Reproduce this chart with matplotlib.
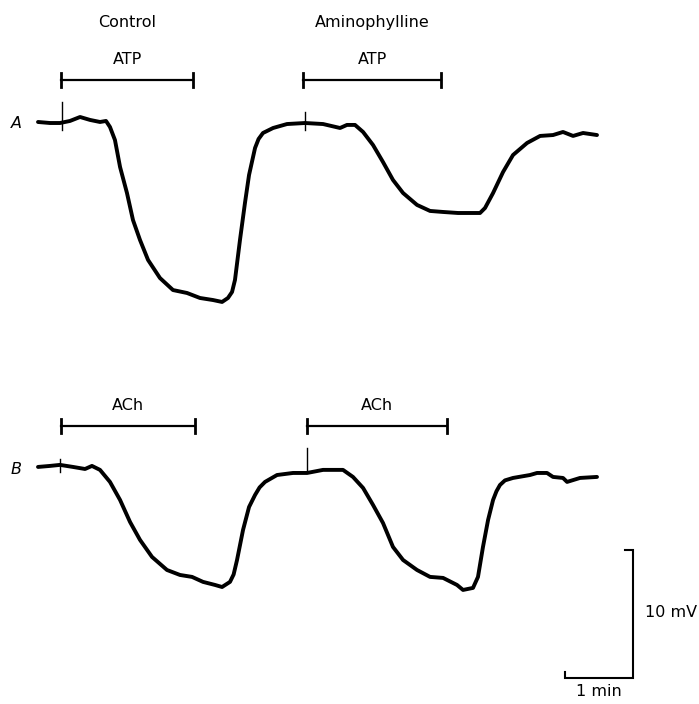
import matplotlib.pyplot as plt
import numpy as np

# time in s from start of record, membrane potential change in mV
t_a = [0, 10.6, 19.4, 28.2, 37.1, 45.9, 54.7, 60.0, 63.5, 67.9, 72.4, 78.5,
       83.8, 90.0, 97.1, 107.6, 119.1, 131.5, 142.9, 154.4, 162.4, 167.6, 171.2,
       173.8, 178.2, 182.6, 186.2, 191.5, 194.6, 198.5, 207.4, 219.7, 235.6, 251.5,
       266.5, 272.6, 279.7, 286.8, 295.6, 304.4, 313.2, 322.1, 334.4, 345.9,
       357.4, 370.6, 378.5, 390.0, 394.4, 401.5, 410.3, 419.1, 431.5, 443.0,
       454.4, 463.2, 472.1, 480.9, 493.2]
v_a = [0, -0.08, -0.08, 0.08, 0.39, 0.16, 0, 0.08, -0.39, -1.41, -3.52, -5.55,
       -7.66, -9.22, -10.78, -12.19, -13.13, -13.36, -13.75, -13.91, -14.06, -13.75, -13.28,
       -12.34, -9.22, -6.33, -4.14, -2.03, -1.33, -0.86, -0.47, -0.16, -0.08, -0.16,
       -0.47, -0.23, -0.23, -0.78, -1.80, -3.13, -4.53, -5.55, -6.48, -6.95,
       -7.03, -7.11, -7.11, -7.11, -6.72, -5.55, -3.91, -2.58, -1.64, -1.09,
       -1.02, -0.78, -1.09, -0.86, -1.02]

t_b = [0, 10.6, 19.4, 30.9, 41.5, 47.6, 54.7, 63.5, 72.4, 81.2, 90.0, 100.6,
       113.8, 125.3, 135.9, 145.6, 156.2, 162.4, 169.4, 172.6, 175.6, 180.9, 186.2,
       191.5, 195.5, 200.3, 210.9, 225.0, 237.4, 251.5, 269.1, 277.9, 286.8, 295.6,
       304.4, 313.2, 322.1, 334.4, 345.9, 357.4, 369.7, 375.0, 383.8, 388.2,
       392.6, 397.1, 401.5, 404.5, 407.6, 412.0, 419.1, 434.1, 440.3, 449.1, 454.4, 463.2,
       466.8, 478.2, 493.2]
v_b = [0, 0.08, 0.16, 0, -0.16, 0.08, -0.23, -1.17, -2.58, -4.30, -5.70, -7.03,
       -8.05, -8.44, -8.59, -8.98, -9.22, -9.38, -8.98, -8.40, -7.27, -4.92, -3.13,
       -2.19, -1.60, -1.17, -0.63, -0.47, -0.47, -0.23, -0.23, -0.78, -1.64, -2.97,
       -4.38, -6.25, -7.27, -8.05, -8.59, -8.67, -9.22, -9.61, -9.45, -8.59,
       -6.25, -4.14, -2.58, -1.90, -1.41, -1.05, -0.86, -0.63, -0.47, -0.47, -0.78, -0.86,
       -1.17, -0.86, -0.78]

# application artefacts (time, peak)
spk_a = [(21.2, 1.6), (235.6, 0.8)]
spk_b = [(19.4, 0.6), (237.4, 1.5)]

# drug application periods
bars_a = [(20.3, 136.8), (233.8, 355.6)]
bars_b = [(20.3, 138.5), (237.4, 360.9)]
drug_a = ['ATP', 'ATP']
drug_b = ['ACh', 'ACh']
conditions = ['Control', 'Aminophylline']

off_b = -26.95   # vertical offset of trace B (mV)

fig = plt.figure(figsize=(6.99, 7.04), dpi=100)
ax = fig.add_axes([0, 0, 1, 1])
ax.set_xlim(-33.53, 583.2)
ax.set_ylim(-45.47, 9.53)
ax.axis('off')

lw = 2.8
ax.plot(t_a, v_a, c='k', lw=lw, solid_capstyle='round', solid_joinstyle='round')
ax.plot(t_b, np.array(v_b) + off_b, c='k', lw=lw, solid_capstyle='round',
        solid_joinstyle='round')

for t, h in spk_a:
    ax.plot([t, t], [-0.6, h], c='k', lw=1.0)
for t, h in spk_b:
    ax.plot([t, t], [off_b - 0.4, off_b + h], c='k', lw=1.0)


def drug_bar(t0, t1, y, label):
    ax.plot([t0, t1], [y, y], c='k', lw=1.6)
    for t in (t0, t1):
        ax.plot([t, t], [y - 0.55, y + 0.55], c='k', lw=2.0)
    ax.text((t0 + t1) / 2, y + 1.0, label, ha='center', va='bottom', fontsize=11.5)


for (t0, t1), lab in zip(bars_a, drug_a):
    drug_bar(t0, t1, 3.28, lab)
for (t0, t1), lab in zip(bars_b, drug_b):
    drug_bar(t0, t1, -23.75, lab)

for (t0, t1), lab in zip(bars_a, conditions):
    ax.text((t0 + t1) / 2, 7.81, lab, ha='center', va='center', fontsize=11.5)

ax.text(-19.4, -0.15, 'A', ha='center', va='center', fontsize=11.5, style='italic')
ax.text(-19.4, off_b - 0.2, 'B', ha='center', va='center', fontsize=11.5, style='italic')

# scale bar: 10 mV, 1 min
sx, sy = 525.0, -43.44
ax.plot([sx - 7, sx, sx, sx - 60, sx - 60], [sy + 10, sy + 10, sy, sy, sy + 0.5],
        c='k', lw=1.5, solid_joinstyle='miter')
ax.text(sx + 10.5, sy + 5.1, '10 mV', ha='left', va='center', fontsize=11.5)
ax.text(sx - 30, sy - 0.5, '1 min', ha='center', va='top', fontsize=11.5)

fig.savefig('out.png', dpi=100)
